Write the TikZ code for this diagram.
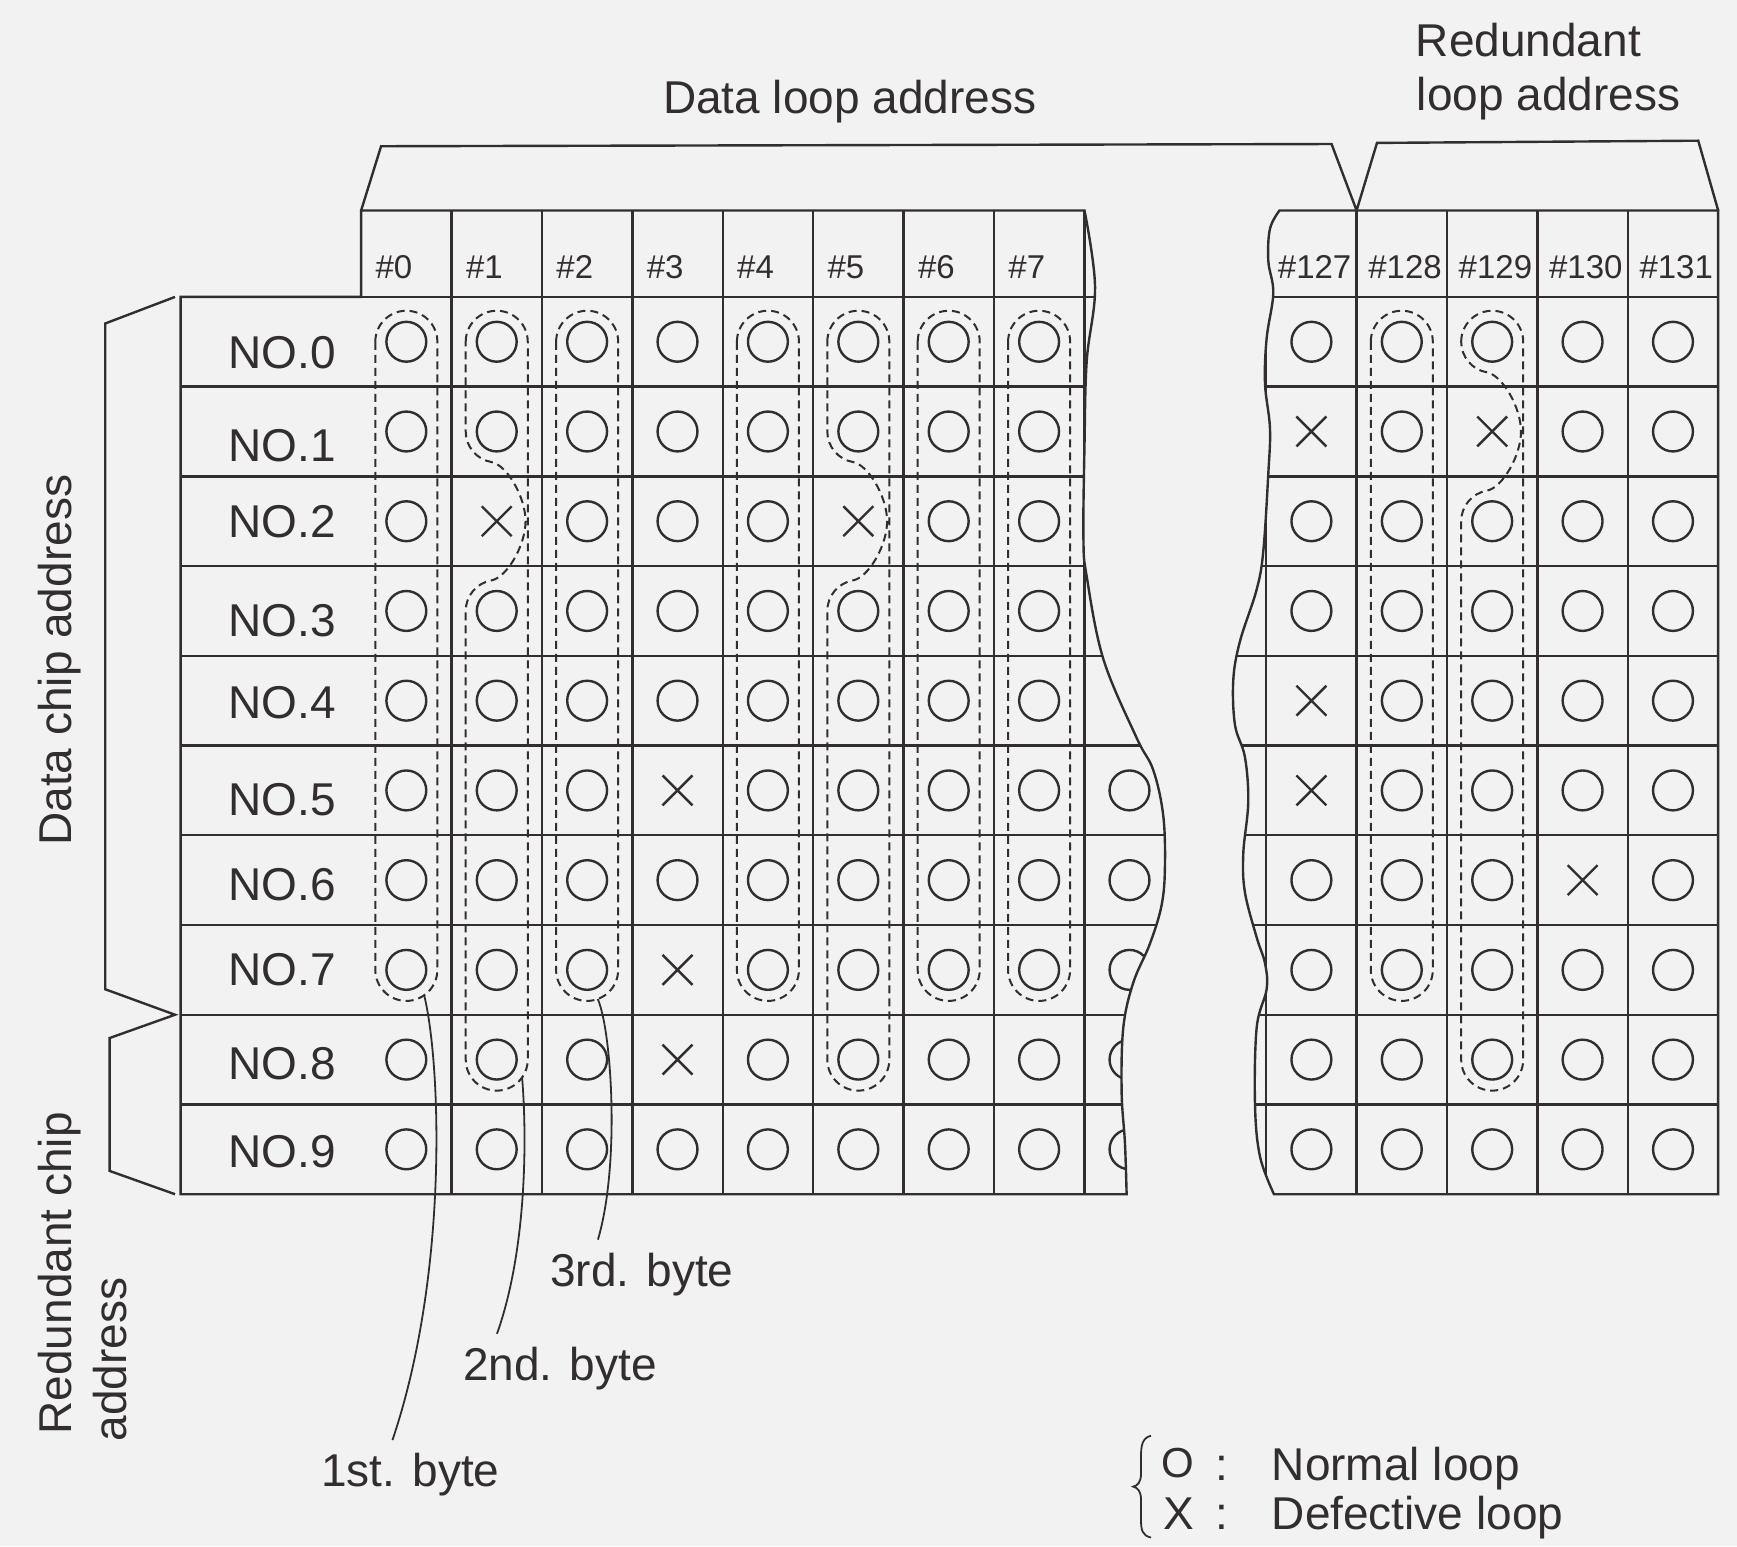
\documentclass[tikz,border=0pt]{standalone}
\usepackage{fontspec}
\setmainfont{Liberation Sans}

\definecolor{paper}{RGB}{242,242,242}
\definecolor{ink}{RGB}{50,46,48}

\tikzset{
  okloop/.pic={\draw (0,0) circle (18);},
  badloop/.pic={\draw (-13.5,-13.5) -- (13.5,13.5) (-13.5,13.5) -- (13.5,-13.5);}
}

\begin{document}
\begin{tikzpicture}[x=0.5539pt, y=-0.5539pt, line width=1.2pt, color=ink,
    byteloop/.style={line width=1pt, dash pattern=on 4pt off 2.5pt},
    lbl/.style={font=\fontsize{23}{27}\selectfont, inner sep=0pt},
    hdr/.style={font=\fontsize{16.5}{19}\selectfont, inner sep=0pt, anchor=base west}]
  \path[use as bounding box, fill=paper] (0,0) rectangle (1568,1396);

  % data loops, torn off on the right
  \begin{scope}
    \draw[clip] (163,268) -- (326,268) -- (326,190) -- (979,190)
      -- plot[smooth, tension=0.6] coordinates {(979,190) (988.5,258.7) (981,325.6) (979,400) (978,485.7) (981,520.5) (996,595) (1026,666) (1041,695) (1050,735.7) (1051.6,782) (1048.6,817) (1038,852) (1023,887) (1014,927.6) (1012.5,985.8) (1015.5,1032) (1017,1078)}
      -- (163,1078) -- cycle;
    \foreach \k in {1,...,8} \draw (326+81.6*\k,190) -- (326+81.6*\k,1078);
    \foreach \r in {0,...,9} \draw (163,268+81*\r) -- (1100,268+81*\r);
    \foreach \r/\cells in {0/{0,0,0,0,0,0,0,0,2}, 1/{0,0,0,0,0,0,0,0,2},
        2/{0,1,0,0,0,1,0,0,2}, 3/{0,0,0,0,0,0,0,0,2}, 4/{0,0,0,0,0,0,0,0,2},
        5/{0,0,0,1,0,0,0,0,0}, 6/{0,0,0,0,0,0,0,0,0}, 7/{0,0,0,1,0,0,0,0,0},
        8/{0,0,0,1,0,0,0,0,0}, 9/{0,0,0,0,0,0,0,0,0}}
      \foreach \v [count=\c from 0] in \cells {
        \ifnum\v=0 \pic at (366.8+81.6*\c,308.5+81*\r) {okloop};\fi
        \ifnum\v=1 \pic at (366.8+81.6*\c,308.5+81*\r) {badloop};\fi
      }
  \end{scope}

  % redundant loops, torn off on the left
  \begin{scope}
    \draw[clip] (1155,190) -- (1551,190) -- (1551,1078) -- (1150,1078)
      -- plot[smooth, tension=0.6] coordinates {(1150,1078) (1137.4,1044) (1132.9,997.5) (1134.4,927.6) (1143.4,892.8) (1141.9,869.5) (1134.4,846.2) (1123.8,805.5) (1122.3,770.6) (1126.8,724) (1123.8,683.4) (1114.8,654.3) (1113.3,613.5) (1119.4,578.6) (1134.4,532.1) (1140.4,497.2) (1144.9,427.4) (1146.4,386.7) (1141.9,346) (1143.4,305.3) (1149.4,264.5) (1144.9,235.5) (1146.4,206.5) (1155,190)}
      -- cycle;
    \foreach \k in {0,...,4} \draw (1143+81.6*\k,190) -- (1143+81.6*\k,1078);
    \foreach \r in {0,...,9} \draw (1100,268+81*\r) -- (1551,268+81*\r);
    \foreach \r/\cells in {0/{0,0,0,0,0}, 1/{1,0,1,0,0}, 2/{0,0,0,0,0},
        3/{0,0,0,0,0}, 4/{1,0,0,0,0}, 5/{1,0,0,0,0}, 6/{0,0,0,1,0},
        7/{0,0,0,0,0}, 8/{0,0,0,0,0}, 9/{0,0,0,0,0}}
      \foreach \v [count=\c from 0] in \cells {
        \ifnum\v=0 \pic at (1183.8+81.6*\c,308.5+81*\r) {okloop};\fi
        \ifnum\v=1 \pic at (1183.8+81.6*\c,308.5+81*\r) {badloop};\fi
      }
  \end{scope}

  \foreach \c in {0,...,7} \node[hdr] (h\c) at (338+81.6*\c,251) {\#\c};
  \foreach \n [count=\k from 0] in {127,...,131} \node[hdr] (h\n) at (1152.5+81.6*\k,251) {\#\n};
  \foreach \r/\dy in {0/10,1/13,2/0,3/9,4/2,5/8,6/4,7/0,8/4,9/2}
    \node[lbl, anchor=west] (no\r) at (205,308.5+81*\r+\dy) {NO.\r};

  % byte groups
  \foreach \cx in {366.8,530,693.2,856.4,938,1265.4}
    \draw[byteloop] (\cx-28,308.5) arc[start angle=180, end angle=360, radius=28]
      -- (\cx+28,875.5) arc[start angle=0, end angle=180, radius=28] -- cycle;
  \foreach \cx/\ya/\yb in {448.4/389.5/551.5, 774.8/389.5/551.5, 1347/308.5/470.5}
    \draw[byteloop] (\cx-28,308.5) arc[start angle=180, end angle=360, radius=28]
      -- (\cx+28,956.5) arc[start angle=0, end angle=180, radius=28]
      -- (\cx-28,\yb) arc[start angle=180, end angle=260, radius=28]
      .. controls (\cx+9,\yb-30) and (\cx+26,\yb-59) .. (\cx+26,\yb-81)
      .. controls (\cx+26,\yb-103) and (\cx+9,\ya+30) .. (\cx-4.86,\ya+27.57)
      arc[start angle=100, end angle=180, radius=28] -- cycle;

  % brackets
  \draw (326,190) -- (344,132) -- (1202,130) -- (1224.6,190) -- (1243,129) -- (1533,127) -- (1551,190);
  \draw (158,268) -- (95,292) -- (95,893) -- (158,916) -- (99,937) -- (99,1057) -- (158,1078);
  \node[lbl, anchor=base] (dataloop) at (767,102) {Data loop address};
  \node[lbl, anchor=base west] (redloop) at (1277,51) {Redundant};
  \node[lbl, anchor=base west] (redloop2) at (1278,99.5) {loop address};
  \node[lbl, rotate=90, anchor=base] (datachip) at (64.7,596) {Data chip address};
  \node[lbl, rotate=90, anchor=base west] (redchip) at (64.7,1296) {Redundant chip};
  \node[lbl, rotate=90, anchor=base west] (redchip2) at (114,1302) {address};

  % byte labels
  \coordinate (loop0bot) at (382.9,898.4);
  \coordinate (loop1bot) at (471.3,972.6);
  \coordinate (loop2bot) at (539.6,901.8);
  \node[lbl, anchor=base, inner sep=6pt] (byte1) at (370.5,1342) {1st. byte};
  \node[lbl, anchor=base, inner sep=6pt] (byte2) at (505.5,1246) {2nd. byte};
  \node[lbl, anchor=base, inner sep=6pt] (byte3) at (579.5,1161) {3rd. byte};
  \draw[line width=0.9pt] (loop0bot) .. controls (398,960) and (405,1150) .. ([xshift=-9pt]byte1.north);
  \draw[line width=0.9pt] (loop1bot) .. controls (476,1030) and (475,1130) .. ([xshift=-31.5pt]byte2.north);
  \draw[line width=0.9pt] (loop2bot) .. controls (552,930) and (560,1050) .. ([xshift=-22pt]byte3.north);

  % legend
  \draw[line width=0.9pt] (1039,1296) .. controls (1031,1298) and (1030,1305) .. (1030,1315) -- (1030,1330)
    .. controls (1030,1338) and (1027,1341) .. (1023,1342) .. controls (1027,1343) and (1030,1346) .. (1030,1354)
    -- (1030,1372) .. controls (1030,1381) and (1031,1386) .. (1039,1388);
  \node[lbl, anchor=base west, font=\fontsize{21}{24}\selectfont] (okmark) at (1047,1334) {O};
  \node[lbl, anchor=base] (okcolon) at (1103,1336) {:};
  \node[lbl, anchor=base west] (oktext) at (1147,1336) {Normal loop};
  \node[lbl, anchor=base west] (badmark) at (1049,1381) {X};
  \node[lbl, anchor=base] (badcolon) at (1103,1381) {:};
  \node[lbl, anchor=base west] (badtext) at (1147,1381) {Defective loop};
\end{tikzpicture}
\end{document}
